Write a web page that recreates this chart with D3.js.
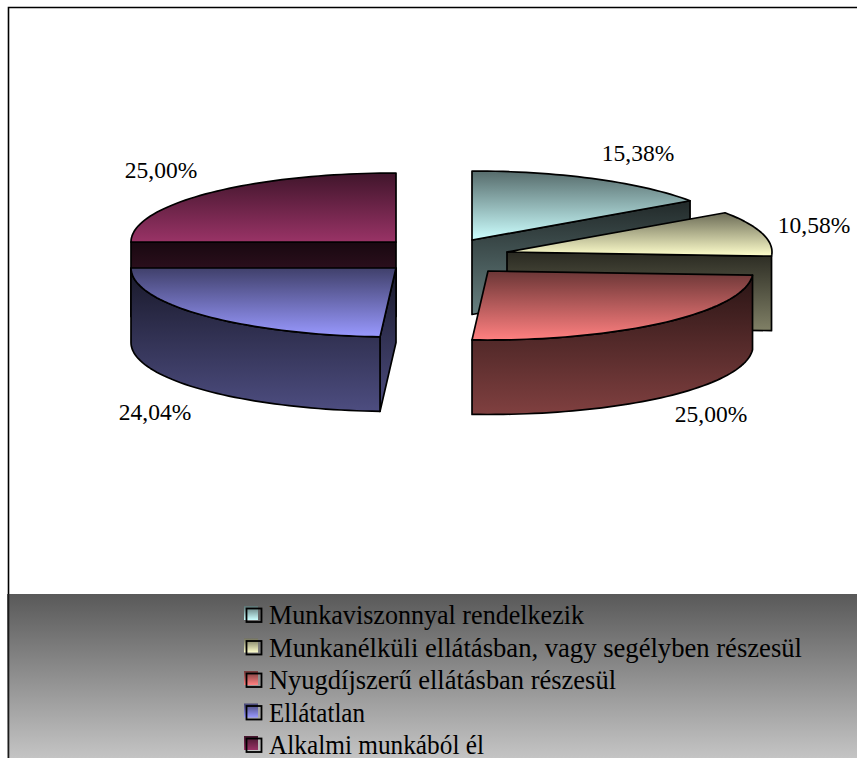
<!DOCTYPE html>
<html>
<head>
<meta charset="utf-8">
<script src="https://cdn.jsdelivr.net/npm/d3@7"></script>
<style>
html,body{margin:0;padding:0;background:#fff}
svg{display:block}
text{font-family:"Liberation Serif",serif;fill:#000}
</style>
</head>
<body>
<svg id="c" width="857" height="758"></svg>
<script>
const categories = ["Munkaviszonnyal rendelkezik","Munkanélküli ellátásban, vagy segélyben részesül","Nyugdíjszerű ellátásban részesül","Ellátatlan","Alkalmi munkából él"];
const shares = [15.38,10.58,25.00,24.04,25.00];
const valueLabels = ["15,38%","10,58%","25,00%","24,04%","25,00%"];
const colors = ["#ccffff","#ffffcc","#ff8080","#9999ff","#993366"];

const svg = d3.select("#c");
const defs = svg.append("defs");

// layout
const RX = 265, RY = 69, DEPTH = 74.5;
const apex = [[472,240],[507,252],[488,271],[396,268],[396,242]];
const labelPos = [[638,161],[814,233],[711,422],[155,420],[161,178]];
const legendWidths = [315,533,347,96,215];

const arcs = d3.pie().sort(null).value(d=>d)(shares);
const pt = (i,a,dy=0)=>[apex[i][0]+RX*Math.sin(a), apex[i][1]-RY*Math.cos(a)+dy];
const line = d3.line();
const sweep = (i,a0,a1,dy=0)=>{
  const n = Math.max(2,Math.ceil((a1-a0)/0.03));
  return d3.range(n+1).map(k=>pt(i,a0+(a1-a0)*k/n,dy));
};

function grad(id,c0,c1){
  const g = defs.append("linearGradient").attr("id",id).attr("x1",0).attr("y1",0).attr("x2",0).attr("y2",1);
  g.append("stop").attr("offset",0).attr("stop-color",c0);
  g.append("stop").attr("offset",1).attr("stop-color",c1);
}
colors.forEach((c,i)=>{
  const k = d3.rgb(c);
  const mix = f=>d3.rgb(k.r*f,k.g*f,k.b*f).formatHex();
  grad("top"+i,mix(.42),c);
  grad("wall"+i,mix(.16),mix(.5));
  grad("leg"+i,mix(.45),c);
});
grad("panel","#595959","#c4c4c4");

// frame
svg.append("path").attr("d","M8.5,758V7.5H857").attr("fill","none").attr("stroke","#000").attr("stroke-width",1.6);

// legend panel
svg.append("rect").attr("x",7).attr("y",594).attr("width",850).attr("height",164).attr("fill","url(#panel)");
svg.append("line").attr("x1",8.5).attr("x2",8.5).attr("y1",594).attr("y2",758).attr("stroke","#1c1c1c").attr("stroke-width",1.6);

const pieG = svg.append("g").attr("stroke","#000").attr("stroke-width",1.7).attr("stroke-linejoin","round");

function drawWall(i,pts,fillId){
  pieG.append("path").attr("d",line(pts)+"Z").attr("fill",`url(#${fillId})`);
}
function drawTop(i){
  const a = arcs[i];
  const pts = [apex[i],...sweep(i,a.startAngle,a.endAngle)];
  pieG.append("path").attr("d",line(pts)+"Z").attr("fill",`url(#top${i})`);
}
function cutFace(i,angle){
  const [ax,ay]=apex[i]; const p=pt(i,angle);
  return [[ax,ay],p,[p[0],p[1]+DEPTH],[ax,ay+DEPTH]];
}
function outerWall(i,a0,a1){
  return [...sweep(i,a0,a1),...sweep(i,a0,a1,DEPTH).reverse()];
}

// back to front
drawWall(0,cutFace(0,arcs[0].endAngle),"wall0");
drawTop(0);
drawWall(1,cutFace(1,arcs[1].endAngle),"wall1");
drawTop(1);
drawWall(2,outerWall(2,arcs[2].startAngle,arcs[2].endAngle),"wall2");
drawTop(2);
drawWall(4,cutFace(4,arcs[4].startAngle),"wall4");
drawTop(4);
drawWall(3,cutFace(3,arcs[3].startAngle),"wall3");
drawWall(3,outerWall(3,arcs[3].startAngle,arcs[3].endAngle),"wall3");
drawTop(3);

// value labels
svg.append("g").selectAll("text").data(valueLabels).join("text")
  .attr("x",(d,i)=>labelPos[i][0]).attr("y",(d,i)=>labelPos[i][1])
  .attr("text-anchor","middle").attr("font-size",23.5).text(d=>d);

// legend
const legY = d3.scalePoint().domain(d3.range(categories.length)).range([624,754]);
const leg = svg.append("g").selectAll("g").data(categories).join("g");
leg.append("rect").attr("x",244).attr("y",(d,i)=>legY(i)-18).attr("width",14).attr("height",14).attr("fill",(d,i)=>`url(#leg${i})`);
leg.append("rect").attr("x",246.5).attr("y",(d,i)=>legY(i)-15.5).attr("width",15).attr("height",13.5).attr("fill","none").attr("stroke","#000").attr("stroke-width",1.8);
leg.append("text").attr("x",269).attr("y",(d,i)=>legY(i)).attr("font-size",27)
  .attr("textLength",(d,i)=>legendWidths[i]).attr("lengthAdjust","spacingAndGlyphs").text(d=>d);
</script>
</body>
</html>
